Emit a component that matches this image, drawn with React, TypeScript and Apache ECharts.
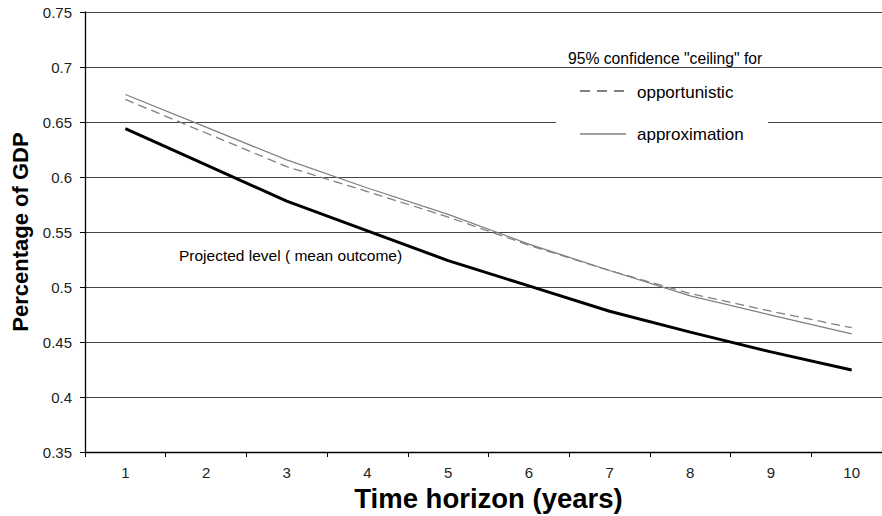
import React, { useEffect, useRef } from "react";
import * as echarts from "echarts";

const years = ["1", "2", "3", "4", "5", "6", "7", "8", "9", "10"];
const meanOutcome = [0.644, 0.611, 0.578, 0.551, 0.524, 0.501, 0.478, 0.459, 0.441, 0.4245];
const opportunistic = [0.6705, 0.64, 0.6094, 0.5867, 0.5636, 0.538, 0.515, 0.494, 0.478, 0.463];
const approximation = [0.675, 0.6453, 0.6155, 0.59, 0.566, 0.539, 0.515, 0.492, 0.4745, 0.4573];
const yTicks = { min: 0.35, max: 0.75, interval: 0.05 };

const FONT = "'Liberation Sans', Arial, sans-serif";

export default function App() {
  const ref = useRef<HTMLDivElement>(null);
  useEffect(() => {
    const chart = echarts.init(ref.current!, null, { renderer: "svg" });
    chart.setOption({
      animation: false,
      backgroundColor: "#ffffff",
      textStyle: { fontFamily: FONT },
      grid: {
        left: 85,
        top: 12,
        width: 807,
        height: 440,
        containLabel: false,
        outerBoundsMode: "none",
      },
      xAxis: {
        type: "category",
        data: years,
        boundaryGap: true,
        name: "Time horizon (years)",
        nameLocation: "middle",
        nameGap: 31,
        nameTextStyle: { fontFamily: FONT, fontSize: 27.5, fontWeight: "bold", color: "#000" },
        axisLine: { lineStyle: { color: "#000", width: 1.3 } },
        axisTick: { show: true, alignWithLabel: false, length: 5, lineStyle: { color: "#000" } },
        axisLabel: { fontFamily: FONT, fontSize: 15, color: "#222", margin: 13 },
        splitLine: { show: false },
      },
      yAxis: {
        type: "value",
        min: yTicks.min,
        max: yTicks.max,
        interval: yTicks.interval,
        name: "Percentage of GDP",
        nameLocation: "middle",
        nameGap: 51.5,
        nameTextStyle: { fontFamily: FONT, fontSize: 22, fontWeight: "bold", color: "#000" },
        axisLine: { show: true, lineStyle: { color: "#000", width: 1.3 } },
        axisTick: { show: true, inside: false, length: 5, lineStyle: { color: "#000" } },
        axisLabel: {
          fontFamily: FONT,
          fontSize: 15,
          color: "#222",
          margin: 13,
          formatter: (v: number) => String(parseFloat(v.toFixed(2))),
        },
        splitLine: { show: true, lineStyle: { color: "#444", width: 1 } },
      },
      series: [
        {
          name: "Projected level ( mean outcome)",
          type: "line",
          data: meanOutcome,
          symbol: "none",
          lineStyle: { color: "#000", width: 3 },
          z: 3,
        },
        {
          name: "opportunistic",
          type: "line",
          data: opportunistic,
          symbol: "none",
          lineStyle: { color: "#808080", width: 1.3, type: [9, 5] },
          z: 2,
        },
        {
          name: "approximation",
          type: "line",
          data: approximation,
          symbol: "none",
          lineStyle: { color: "#808080", width: 1.3 },
          z: 2,
        },
      ],
      graphic: [
        { type: "rect", shape: { x: 556, y: 74, width: 212, height: 76 }, style: { fill: "#fff" }, z: 10 },
        {
          type: "text",
          x: 568,
          y: 58,
          style: { text: '95% confidence "ceiling" for', font: `15.7px ${FONT}`, fill: "#000", verticalAlign: "middle" },
          z: 11,
        },
        {
          type: "line",
          shape: { x1: 580, y1: 91, x2: 629, y2: 91 },
          style: { stroke: "#555", lineWidth: 1.3, lineDash: [10, 7] },
          z: 11,
        },
        {
          type: "text",
          x: 637,
          y: 92,
          style: { text: "opportunistic", font: `17px ${FONT}`, fill: "#000", verticalAlign: "middle" },
          z: 11,
        },
        {
          type: "line",
          shape: { x1: 580, y1: 134, x2: 626, y2: 134 },
          style: { stroke: "#808080", lineWidth: 1.3 },
          z: 11,
        },
        {
          type: "text",
          x: 637,
          y: 134,
          style: { text: "approximation", font: `17px ${FONT}`, fill: "#000", verticalAlign: "middle" },
          z: 11,
        },
        {
          type: "text",
          x: 179,
          y: 255,
          style: { text: "Projected level ( mean outcome)", font: `15.5px ${FONT}`, fill: "#000", verticalAlign: "middle" },
          z: 11,
        },
      ],
    });
    return () => chart.dispose();
  }, []);
  return (
    <div
      ref={ref}
      style={{ position: "fixed", left: 0, top: 0, width: 882, height: 516, background: "#fff" }}
    />
  );
}
